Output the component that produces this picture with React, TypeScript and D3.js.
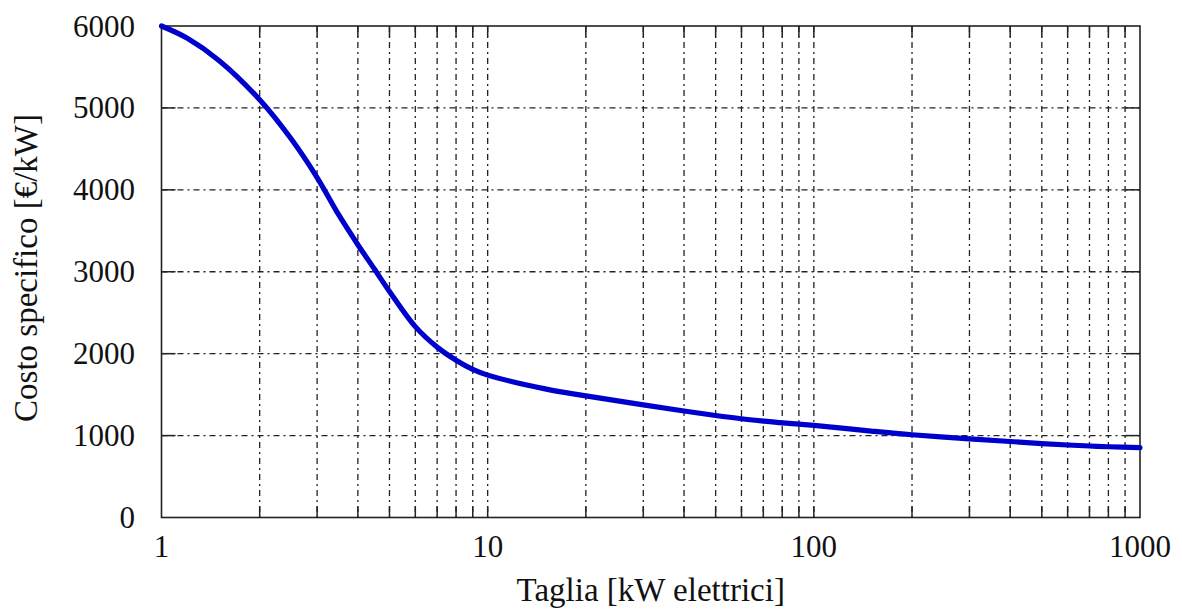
import React from "react";
import * as d3 from "d3";

// Plant size (kW electric) and specific cost (€/kW)
const sizes = [1, 1.2, 1.5, 2, 2.5, 3, 3.5, 4, 4.5, 5, 6, 7, 8, 9, 10, 15, 20, 30, 40, 50, 60, 70, 80, 90, 100, 150, 200, 300, 400, 500, 600, 700, 800, 1000];
const costs = [6000, 5850, 5580, 5100, 4620, 4150, 3690, 3330, 3030, 2760, 2330, 2080, 1920, 1808, 1738, 1570, 1485, 1375, 1300, 1245, 1205, 1177, 1155, 1140, 1125, 1055, 1010, 960, 928, 902, 885, 873, 864, 853];

const xTickLabels = [1, 10, 100, 1000];
const yTickValues = [0, 1000, 2000, 3000, 4000, 5000, 6000];

const xTitle = "Taglia [kW elettrici]";
const yTitle = "Costo specifico [€/kW]";

const W = 1182;
const H = 610;
const left = 161.5;
const right = 1140;
const top = 26;
const bottom = 517.5;

const font = "'Liberation Serif', 'Times New Roman', Tinos, 'DejaVu Serif', serif";

export default function App() {
  const x = d3.scaleLog().domain([1, 1000]).range([left, right]);
  const y = d3.scaleLinear().domain([0, 6000]).range([bottom, top]);

  // minor decade positions 2..9, 10..90, 100..900 (frame edges excluded)
  const minor: number[] = [];
  for (const dec of [1, 10, 100]) {
    for (let k = 1; k <= 9; k++) {
      const v = dec * k;
      if (v > 1 && v < 1000) minor.push(v);
    }
  }

  const line = d3
    .line<number>()
    .x((_, i) => x(sizes[i]))
    .y((d) => y(d))
    .curve(d3.curveCatmullRom.alpha(0.5));

  const gridColor = "#222";
  const dash = "6,4,2,4";
  const textStyle = { fontFamily: font };

  return (
    <svg
      width={W}
      height={H}
      style={{ position: "absolute", left: 0, top: 0, background: "#fff" }}
    >
      <rect x={0} y={0} width={W} height={H} fill="#fff" />

      {/* vertical grid + ticks */}
      {minor.map((v) => (
        <g key={"vx" + v}>
          <line x1={x(v)} x2={x(v)} y1={top} y2={bottom} stroke={gridColor} strokeWidth={1.3} strokeDasharray={dash} />
          <line x1={x(v)} x2={x(v)} y1={bottom} y2={bottom - 11} stroke={gridColor} strokeWidth={1.5} />
          <line x1={x(v)} x2={x(v)} y1={top} y2={top + 11} stroke={gridColor} strokeWidth={1.5} />
        </g>
      ))}

      {/* horizontal grid + ticks */}
      {yTickValues
        .filter((v) => v > 0 && v < 6000)
        .map((v) => (
          <g key={"hy" + v}>
            <line x1={left} x2={right} y1={y(v)} y2={y(v)} stroke={gridColor} strokeWidth={1.3} strokeDasharray={dash} />
            <line x1={left} x2={left + 14} y1={y(v)} y2={y(v)} stroke={gridColor} strokeWidth={1.5} />
            <line x1={right} x2={right - 14} y1={y(v)} y2={y(v)} stroke={gridColor} strokeWidth={1.5} />
          </g>
        ))}

      {/* frame */}
      <rect x={left} y={top} width={right - left} height={bottom - top} fill="none" stroke={gridColor} strokeWidth={1.6} />

      {/* cost curve */}
      <path d={line(costs) ?? ""} fill="none" stroke="#0000cc" strokeWidth={5.2} strokeLinecap="round" strokeLinejoin="round" />

      {/* y tick labels */}
      {yTickValues.map((v) => (
        <text key={"yl" + v} x={135} y={y(v) + 10.5} fontSize={31} textAnchor="end" fill="#111" style={textStyle}>
          {v}
        </text>
      ))}

      {/* x tick labels */}
      {xTickLabels.map((v) => (
        <text key={"xl" + v} x={x(v)} y={557} fontSize={31} textAnchor="middle" fill="#111" style={textStyle}>
          {v}
        </text>
      ))}

      {/* axis titles */}
      <text x={(left + right) / 2} y={601} fontSize={33} textAnchor="middle" fill="#111" style={textStyle}>
        {xTitle}
      </text>
      <text
        transform={`translate(37, 268) rotate(-90)`}
        fontSize={33}
        textAnchor="middle"
        fill="#111"
        style={textStyle}
      >
        {yTitle}
      </text>
    </svg>
  );
}
